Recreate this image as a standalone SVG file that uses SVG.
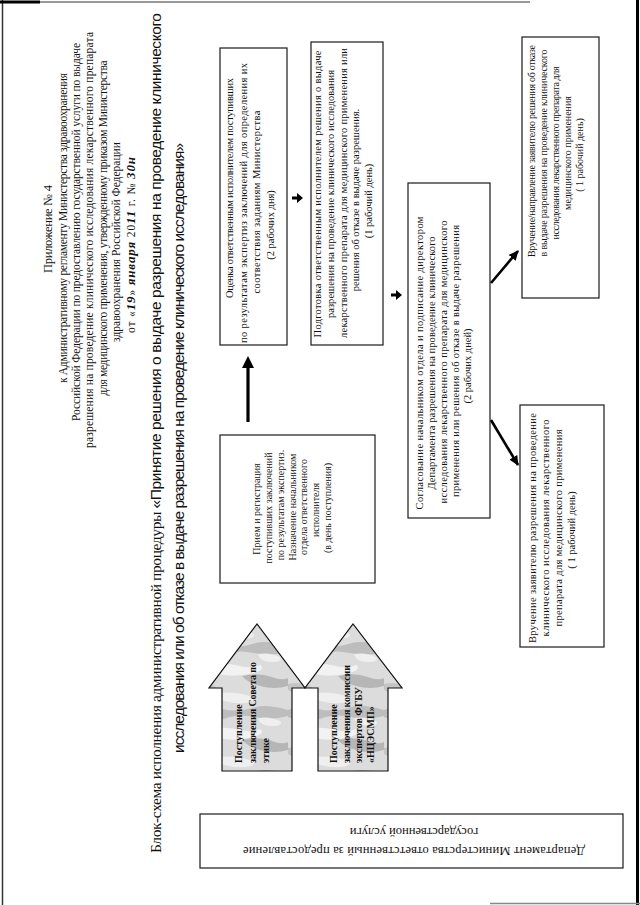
<svg xmlns="http://www.w3.org/2000/svg" width="640" height="905" viewBox="0 0 640 905">
<defs>
<style>
.t{font-family:"Liberation Serif","Times New Roman",serif;fill:#111}
.s{font-family:"Liberation Sans",Arial,sans-serif;fill:#111}
.box{fill:#fff;stroke:#1a1a1a;stroke-width:1.2}
.h{font-size:11.5px}
.ti{font-size:15.5px}
.b{font-size:10.5px}
.bs{font-size:10px}
.ar{font-size:10px;font-weight:bold}
.hw{font-style:italic;font-weight:bold;font-size:13px}
.conn{stroke:#000;fill:none}
.blk{fill:url(#mottle);stroke:#111;stroke-width:1.2}
</style>
<pattern id="mottle" patternUnits="userSpaceOnUse" width="96" height="64">
<rect width="96" height="64" fill="#dcdcdc"/>
<path d="M0,6 q14,-6 30,-1 q16,4 34,-2 q12,-3 32,3 v6 q-18,5 -34,1 q-16,-4 -30,2 q-16,5 -32,-2z" fill="#bdbdbd"/>
<path d="M10,26 q20,-5 38,0 q12,3 20,-1 q6,4 -6,8 q-20,5 -36,1 q-12,-3 -16,-8z" fill="#f2f2f2"/>
<path d="M50,36 q16,-4 30,1 q10,4 16,1 v8 q-14,4 -28,0 q-12,-3 -18,-10z" fill="#b6b6b6"/>
<path d="M0,44 q12,-3 22,2 q8,4 -2,7 q-12,2 -20,-3z" fill="#c4c4c4"/>
<path d="M18,54 q22,-4 40,2 q10,4 -4,7 q-20,2 -36,-9z" fill="#efefef"/>
<path d="M66,14 q12,-2 22,3 q4,5 -8,5 q-12,0 -14,-8z" fill="#efefef"/>
</pattern>
<marker id="ah" markerUnits="userSpaceOnUse" markerWidth="10" markerHeight="9" viewBox="0 0 10 9" refX="9" refY="4.5" orient="auto"><path d="M0,0 L10,4.5 L0,9 z" fill="#000"/></marker>
</defs>
<rect width="640" height="905" fill="#fff"/>
<g id="frame">
<line x1="2.5" y1="0" x2="2.5" y2="905" stroke="#333" stroke-width="1.5"/>
<line x1="0" y1="2" x2="40" y2="2" stroke="#000" stroke-width="3"/>
<line x1="40" y1="2" x2="530" y2="2" stroke="#777" stroke-width="1.5"/>
<line x1="637.5" y1="0" x2="637.5" y2="905" stroke="#000" stroke-width="3"/>
<line x1="490" y1="903.5" x2="640" y2="903.5" stroke="#888" stroke-width="1.5"/>
</g>
<g id="header" class="t h" transform="rotate(-90)" text-anchor="middle">
<text x="-229" y="52" style="font-size:12.5px" textLength="88">Приложение № 4</text>
<text x="-228" y="67" textLength="310">к Административному регламенту Министерства здравоохранения</text>
<text x="-232" y="80" textLength="378">Российской Федерации по предоставлению государственной услуги по выдаче</text>
<text x="-240" y="93" textLength="416">разрешения на проведение клинического исследования лекарственного препарата</text>
<text x="-228" y="107" textLength="335">для медицинского применения, утвержденному приказом Министерства</text>
<text x="-242" y="120">здравоохранения Российской Федерации</text>
<text x="-245" y="135" textLength="176">от «<tspan class="hw">19</tspan>» <tspan class="hw">января</tspan> 20<tspan class="hw">11</tspan> г. № <tspan class="hw">30н</tspan></text>
</g>
<g id="title" transform="rotate(-90)" text-anchor="middle">
<text class="t ti" x="-433" y="161" textLength="840">Блок-схема исполнения административной процедуры <tspan class="s">«Принятие решения о выдаче разрешения на проведение клинического</tspan></text>
<text class="s ti" x="-448" y="184" textLength="610">исследования или об отказе в выдаче разрешения на проведение клинического исследования»</text>
</g>
<g id="node-priem">
<rect class="box" x="220" y="435" width="155" height="148"/>
<g class="t bs" transform="rotate(-90)" text-anchor="middle">
<text x="-509" y="260">Прием и регистрация</text>
<text x="-508" y="271.5">поступивших заключений</text>
<text x="-505" y="283.5">по результатам экспертиз.</text>
<text x="-507" y="295.5">Назначение начальником</text>
<text x="-507" y="307">отдела ответственного</text>
<text x="-510" y="319">исполнителя</text>
<text x="-508" y="331">(в день поступления)</text>
</g>
</g>
<g id="node-ocenka">
<rect class="box" x="220" y="48" width="67" height="297"/>
<g class="t b" transform="rotate(-90)" text-anchor="middle">
<text x="-188" y="233" textLength="220">Оценка ответственным исполнителем поступивших</text>
<text x="-203" y="246.5" textLength="280">по результатам экспертиз заключений для определения их</text>
<text x="-202" y="260" textLength="183">соответствия заданиям Министерства</text>
<text x="-225" y="273.5">(2 рабочих дня)</text>
</g>
</g>
<g id="node-podgotovka">
<rect class="box" x="311" y="42" width="72" height="303"/>
<g class="t b" transform="rotate(-90)" text-anchor="middle">
<text x="-194" y="321" textLength="287">Подготовка ответственным исполнителем решения о выдаче</text>
<text x="-194" y="334" textLength="248">разрешения на проведение клинического исследования</text>
<text x="-193" y="346.5" textLength="290">лекарственного препарата для медицинского применения или</text>
<text x="-200" y="359">решения об отказе в выдаче разрешения.</text>
<text x="-201" y="372">(1 рабочий день)</text>
</g>
</g>
<g id="node-soglasovanie">
<rect class="box" x="408" y="183" width="82" height="335"/>
<g class="t b" transform="rotate(-90)" text-anchor="middle">
<text x="-363" y="423" textLength="293">Согласование начальником отдела и подписание директором</text>
<text x="-363" y="435" textLength="253">Департамента разрешения на проведение клинического</text>
<text x="-362" y="447" textLength="283">исследования лекарственного препарата для медицинского</text>
<text x="-361" y="459" textLength="272">применения или решения об отказе в выдаче разрешения</text>
<text x="-366" y="470.5">(2 рабочих дней)</text>
</g>
</g>
<g id="node-vruchenie-otkaz">
<rect class="box" x="522" y="37" width="77" height="261"/>
<g class="t bs" transform="rotate(-90)" text-anchor="middle">
<text x="-151" y="534.5" textLength="212">Вручение/направление заявителю решения об отказе</text>
<text x="-153" y="547" textLength="207">в выдаче разрешения на проведение клинического</text>
<text x="-153" y="559" textLength="173">исследования лекарственного препарата для</text>
<text x="-153" y="571">медицинского применения</text>
<text x="-155" y="583">( 1 рабочий день)</text>
</g>
</g>
<g id="node-vruchenie-razresh">
<rect class="box" x="520" y="405" width="84" height="242"/>
<g class="t b" transform="rotate(-90)" text-anchor="middle">
<text x="-528" y="535.5" textLength="230">Вручение заявителю разрешения на проведение</text>
<text x="-528" y="549" textLength="217">клинического исследования лекарственного</text>
<text x="-528" y="561.5" textLength="197">препарата для медицинского применения</text>
<text x="-530" y="574.5">( 1 рабочий день)</text>
</g>
</g>
<g id="node-sovet">
<polygon class="blk" points="222,771 222,688 209,688 257,624 305,688 292,688 292,771"/>
<g class="t ar" transform="rotate(-90)">
<text x="-763" y="241.5">Поступление</text>
<text x="-763" y="255.5" textLength="101">заключения Совета по</text>
<text x="-763" y="268.5">этике</text>
</g>
</g>
<g id="node-ncesmp">
<polygon class="blk" points="318,771 318,688 305,688 353,624 402,688 388,688 388,771"/>
<g class="t ar" transform="rotate(-90)">
<text x="-763" y="336.5">Поступление</text>
<text x="-763" y="350" textLength="98">заключения комиссии</text>
<text x="-763" y="362">экспертов ФГБУ</text>
<text x="-763" y="373.5">«НЦЭСМП»</text>
</g>
</g>
<g id="node-departament">
<rect class="box" x="200" y="814" width="423" height="54"/>
<text class="t" style="font-size:12.5px" transform="translate(414,847) rotate(180)" text-anchor="middle"><tspan x="0" y="0" textLength="342">Департамент Министерства ответственный за предоставление</tspan><tspan x="0" y="19">государственной услуги</tspan></text>
</g>
<g id="connectors">
<line class="conn" x1="248" y1="422" x2="248" y2="366" stroke-width="3.2"/>
<path d="M242,368 L248,356 L254,368 z" fill="#000"/>
<path d="M292,196.5 h5 v-3.5 l6,5 l-6,5 v-3.5 h-5 z" fill="#000"/>
<path d="M391,293.5 h5 v-3.5 l6,5 l-6,5 v-3.5 h-5 z" fill="#000"/>
<line class="conn" x1="491" y1="283" x2="518" y2="251" stroke-width="2.6" marker-end="url(#ah)"/>
<line class="conn" x1="491" y1="420" x2="518" y2="465" stroke-width="2.6" marker-end="url(#ah)"/>
</g>
</svg>
